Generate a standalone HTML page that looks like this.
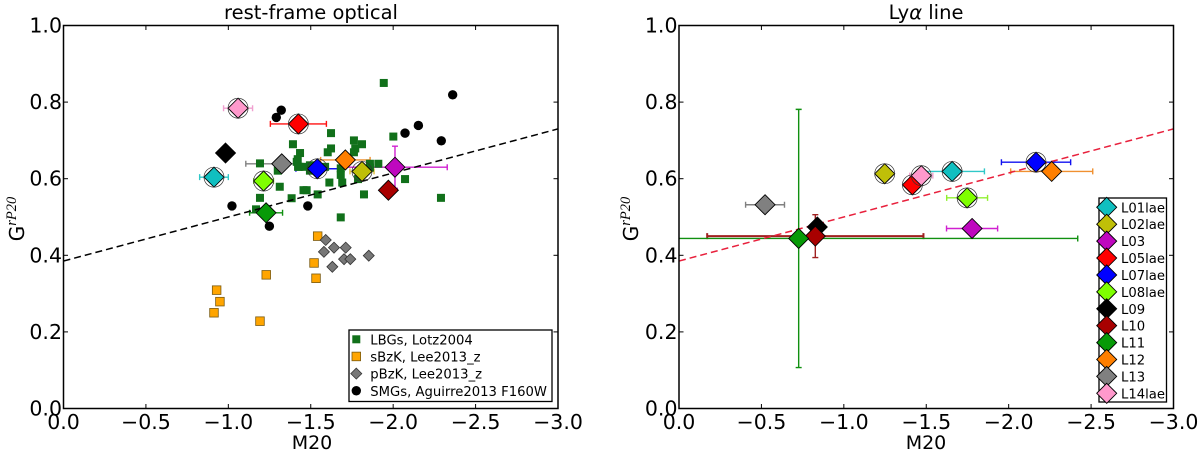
<!DOCTYPE html>
<html lang="en">
<head>
<meta charset="utf-8">
<title>G vs M20 chart</title>
<style>
html,body{margin:0;padding:0;background:#fff;width:1200px;height:450px;overflow:hidden}
svg{display:block}
text{font-family:"DejaVu Sans","Liberation Sans",sans-serif;fill:#000}
.tick{font-size:20.5px}
.title{font-size:19.5px}
.axlabel{font-size:19px}
.ylab{font-size:20px}
.sup{font-family:"Liberation Serif",serif;font-style:italic;font-size:14.5px}
.leg{font-size:13.2px}
</style>
</head>
<body>
<svg id="chart" xmlns="http://www.w3.org/2000/svg" width="1200" height="450" viewBox="0 0 1200 450">
  <defs>
    <clipPath id="clip-left"><rect x="63.5" y="25.5" width="494.5" height="383"/></clipPath>
    <clipPath id="clip-right"><rect x="679" y="25.5" width="494.5" height="383"/></clipPath>
  </defs>
  <text class="title" x="311" y="19" text-anchor="middle">rest-frame optical</text>
  <text class="title" x="926" y="19" text-anchor="middle">Ly<tspan font-style="italic">α</tspan> line</text>
  <text class="axlabel" x="312" y="449" text-anchor="middle">M20</text>
  <text class="axlabel" x="926" y="449" text-anchor="middle">M20</text>
  <text class="ylab" transform="translate(24,219) rotate(-90)" text-anchor="middle">G<tspan class="sup" dy="-8">rP20</tspan></text>
  <text class="ylab" transform="translate(638,219) rotate(-90)" text-anchor="middle">G<tspan class="sup" dy="-8">rP20</tspan></text>
</svg>
<script>
// ---- data ----
const xTicks = [0, -0.5, -1, -1.5, -2, -2.5, -3];
const xTickLabels = ['0.0', '−0.5', '−1.0', '−1.5', '−2.0', '−2.5', '−3.0'];
const yTicks = [0, 0.2, 0.4, 0.6, 0.8, 1];
const yTickLabels = ['0.0', '0.2', '0.4', '0.6', '0.8', '1.0'];

const lbgM20 = [-1.192,-1.300,-1.312,-1.192,-1.168,-1.392,-1.435,-1.415,-1.423,-1.384,-1.943,-1.623,-1.421,-1.431,-1.762,-1.811,-1.770,-1.762,-1.623,-1.603,-2.001,-1.859,-1.910,-1.859,-1.465,-1.495,-1.587,-1.682,-1.682,-1.613,-1.691,-2.072,-1.823,-2.290,-1.542,-1.475,-1.456,-1.682,-1.787,-1.495];
const lbgG = [0.640,0.621,0.579,0.550,0.520,0.690,0.667,0.644,0.631,0.549,0.850,0.719,0.651,0.631,0.700,0.690,0.679,0.669,0.679,0.669,0.710,0.639,0.639,0.629,0.631,0.621,0.631,0.627,0.610,0.590,0.590,0.599,0.559,0.550,0.559,0.570,0.570,0.499,0.599,0.635];
const sbzkM20 = [-0.929,-0.949,-0.913,-1.192,-1.230,-1.542,-1.520,-1.532];
const sbzkG = [0.309,0.279,0.250,0.228,0.349,0.450,0.380,0.340];
const pbzkM20 = [-1.591,-1.580,-1.641,-1.712,-1.852,-1.702,-1.740,-1.631];
const pbzkG = [0.440,0.409,0.420,0.420,0.399,0.390,0.390,0.370];
const smgM20 = [-1.022,-1.291,-1.321,-1.249,-2.361,-2.153,-2.072,-2.292,-1.482];
const smgG = [0.529,0.760,0.779,0.476,0.819,0.739,0.719,0.699,0.529];

const sources = ['L01lae','L02lae','L03','L05lae','L07lae','L08lae','L09','L10','L11','L12','L13','L14lae'];
const optM20 = [-0.913,-1.811,-2.011,-1.425,-1.540,-1.214,-0.983,-1.971,-1.229,-1.710,-1.324,-1.059];
const optG = [0.604,0.619,0.630,0.743,0.626,0.594,0.667,0.570,0.511,0.649,0.639,0.784];
const optXErr = [0.087,0.073,0.317,0.170,0.130,0.060,0,0,0.100,0.150,0.218,0.088];
const optYErr = [0,0,0.055,0,0,0,0,0,0,0,0,0];
const lyaM20 = [-1.657,-1.248,-1.778,-1.416,-2.166,-1.748,-0.839,-0.827,-0.726,-2.261,-0.522,-1.470];
const lyaG = [0.619,0.613,0.470,0.584,0.643,0.550,0.474,0.450,0.444,0.619,0.532,0.608];
const lyaXErr = [0.196,0,0.155,0.040,0.210,0.124,0,0.656,1.693,0.249,0.118,0.070];
const lyaYErr = [0,0,0,0,0,0,0,0.056,0.337,0,0,0];

const fitM20 = [0, -3];
const fitG = [0.385, 0.73];

// ---- styles (by source) ----
const colorOf = {L01lae:'#10bfc0',L02lae:'#bfbf08',L03:'#bf08bf',L05lae:'#ff0000',L07lae:'#0000ff',L08lae:'#7fff00',L09:'#000000',L10:'#a80000',L11:'#079a07',L12:'#ff7f00',L13:'#808080',L14lae:'#ff99cc'};
const errColorOf = {L01lae:'#30c8c8',L02lae:'#e0c040',L03:'#d020d0',L05lae:'#ff1010',L07lae:'#1010f0',L08lae:'#90f030',L09:'#000000',L10:'#a02020',L11:'#109010',L12:'#f09030',L13:'#808080',L14lae:'#f0a0d0'};

// ---- axes helpers ----
const NS = 'http://www.w3.org/2000/svg';
const root = document.getElementById('chart');
const W = 494.5, H = 383, TOP = 25.5, SX = W / 3, SY = H;
const sy = v => TOP + H - v * SY;
function mk(tag, parent, attrs) {
  const el = document.createElementNS(NS, tag);
  for (const k in attrs) el.setAttribute(k, attrs[k]);
  parent.appendChild(el);
  return el;
}

function drawAxes(g, x0) {
  const sx = v => x0 - v * SX;
  xTicks.forEach((t, i) => {
    const x = sx(t);
    const a = mk('line', g, {x1:x, x2:x, y1:TOP+H, y2:TOP+H-4.5, stroke:'#000', 'stroke-width':1});
    
    
    const b = mk('line', g, {x1:x, x2:x, y1:TOP, y2:TOP+4.5, stroke:'#000', 'stroke-width':1});
    
    
    const l = mk('text', g, {x:x, y:429, 'text-anchor':'middle', class:'tick'});
    
    
    l.textContent = xTickLabels[i];
  });
  yTicks.forEach((t, i) => {
    const y = sy(t);
    const a = mk('line', g, {x1:x0, x2:x0+4.5, y1:y, y2:y, stroke:'#000', 'stroke-width':1});
    
    
    const b = mk('line', g, {x1:x0+W, x2:x0+W-4.5, y1:y, y2:y, stroke:'#000', 'stroke-width':1});
    
    
    const l = mk('text', g, {x:x0-1.5, y:y+7, 'text-anchor':'end', class:'tick'});
    
    
    l.textContent = yTickLabels[i];
  });
  const f = mk('rect', g, {x:x0, y:TOP, width:W, height:H, fill:'none', stroke:'#000', 'stroke-width':1.5});
  
  
}

function drawSquare(g, x, y, s, fill, stroke) {
  const el = mk('rect', g, {x:x-s/2, y:y-s/2, width:s, height:s, fill:fill, stroke:stroke, 'stroke-width':0.8});
  
  
  return el;
}
function diamondPts(x, y, r) {
  return [x, y-r, x+r, y, x, y+r, x-r, y].join(',');
}
function drawSmallDiamond(g, x, y) {
  const el = mk('polygon', g, {points:diamondPts(x, y, 5.5), fill:'#777', stroke:'#333', 'stroke-width':0.8});
  
  
  return el;
}
function drawDot(g, x, y) {
  const el = mk('circle', g, {cx:x, cy:y, r:4.7, fill:'#000'});
  
  
  return el;
}
function drawFit(g, sx, color) {
  const el = mk('line', g, {x1:sx(fitM20[0]), y1:sy(fitG[0]), x2:sx(fitM20[1]), y2:sy(fitG[1]), stroke:color, 'stroke-width':1.5, 'stroke-dasharray':'7 4'});
  
  
}
function drawErr(g, sx, i, xs, ys, xe, ye) {
  const color = errColorOf[sources[i]];
  const thick = sources[i] === 'L10' && xe[i] > 0.5 ? 2 : 1.4;
  const px = sx(xs[i]), py = sy(ys[i]);
  if (xe[i] > 0) {
    const a = sx(xs[i] - xe[i]), b = sx(xs[i] + xe[i]);
    const el = mk('path', g, {d:`M${a} ${py}H${b}M${a} ${py-3}V${py+3}M${b} ${py-3}V${py+3}`, fill:'none', stroke:color, 'stroke-width':thick});
    
    
  }
  if (ye[i] > 0) {
    const a = sy(ys[i] - ye[i]), b = sy(ys[i] + ye[i]);
    const el = mk('path', g, {d:`M${px} ${a}V${b}M${px-3} ${a}H${px+3}M${px-3} ${b}H${px+3}`, fill:'none', stroke:color, 'stroke-width':1.4});
    
    
  }
}
function drawBig(g, x, y, name, ring) {
  const d = mk('polygon', g, {points:diamondPts(x, y, 10), fill:colorOf[name], stroke:'#000', 'stroke-width':0.9});
  
  
  if (ring) {
    const c = mk('circle', g, {cx:x, cy:y, r:10, fill:'none', stroke:'#333', 'stroke-width':0.7});
    
    
  }
}
const isLae = n => n.endsWith('lae');

// ---- left panel ----
(function () {
  const x0 = 63.5, sx = v => x0 - v * SX;
  const g = mk('g', root, {'clip-path':'url(#clip-left)'});
  
  
  sources.forEach((n, i) => drawErr(g, sx, i, optM20, optG, optXErr, optYErr));
  lbgM20.forEach((v, i) => drawSquare(g, sx(v), sy(lbgG[i]), 7.2, '#11701a', '#11701a'));
  sbzkM20.forEach((v, i) => drawSquare(g, sx(v), sy(sbzkG[i]), 8.6, '#ffa500', '#7a5a10'));
  pbzkM20.forEach((v, i) => drawSmallDiamond(g, sx(v), sy(pbzkG[i])));
  smgM20.forEach((v, i) => drawDot(g, sx(v), sy(smgG[i])));
  drawFit(g, sx, '#000');
  sources.forEach((n, i) => drawBig(g, sx(optM20[i]), sy(optG[i]), n, isLae(n)));
  const ax = mk('g', root, {});
  
  
  drawAxes(ax, x0);

  const lg = mk('g', root, {});
  
  
  const box = mk('rect', lg, {x:349, y:330, width:203, height:71.5, fill:'#fff', stroke:'#000', 'stroke-width':1.3});
  
  
  const labels = ['LBGs, Lotz2004', 'sBzK, Lee2013_z', 'pBzK, Lee2013_z', 'SMGs, Aguirre2013 F160W'];
  const rowY = r => 339.3 + r * 17.15;
  drawSquare(lg, 356.3, rowY(0), 7.2, '#11701a', '#11701a');
  drawSquare(lg, 356.3, rowY(1), 8.6, '#ffa500', '#7a5a10');
  drawSmallDiamond(lg, 356.3, rowY(2));
  drawDot(lg, 356.3, rowY(3));
  labels.forEach((t, r) => {
    const el = mk('text', lg, {x:370.3, y:rowY(r)+5, class:'leg'});
    
    
    el.textContent = t;
  });
})();

// ---- right panel ----
(function () {
  const x0 = 679, sx = v => x0 - v * SX;
  const g = mk('g', root, {'clip-path':'url(#clip-right)'});
  
  
  sources.forEach((n, i) => drawErr(g, sx, i, lyaM20, lyaG, lyaXErr, lyaYErr));
  drawFit(g, sx, '#e8203c');
  sources.forEach((n, i) => drawBig(g, sx(lyaM20[i]), sy(lyaG[i]), n, isLae(n)));
  const ax = mk('g', root, {});
  
  
  drawAxes(ax, x0);

  const lg = mk('g', root, {});
  
  
  const box = mk('rect', lg, {x:1099, y:198, width:67.5, height:204, fill:'#fff', stroke:'#000', 'stroke-width':1.3});
  
  
  sources.forEach((n, r) => {
    const y = 207.3 + r * 16.91;
    drawBig(lg, 1106.7, y, n, false);
    const el = mk('text', lg, {x:1121, y:y+5, class:'leg'});
    
    
    el.textContent = n;
  });
})();
</script>
</body>
</html>
